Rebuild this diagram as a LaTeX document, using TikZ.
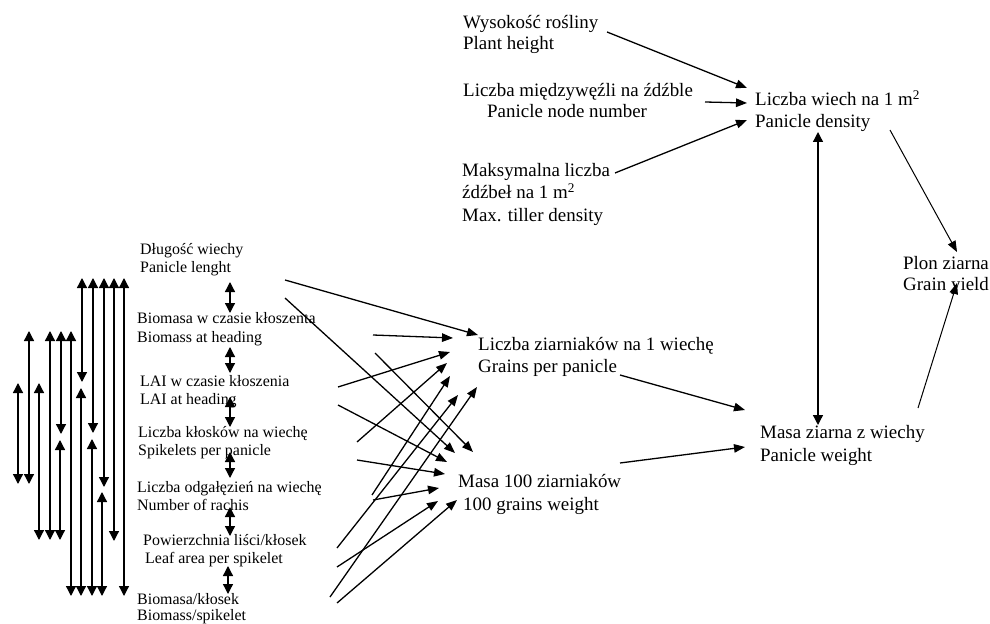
\documentclass[tikz,border=0pt]{standalone}
\usepackage{fontspec}
\setmainfont{Liberation Serif}
\usetikzlibrary{arrows.meta}
\begin{document}
\begin{tikzpicture}[x=1bp,y=-1bp,
  lbl/.style={anchor=base west, inner sep=0pt, font=\fontsize{16}{18}\selectfont},
  big/.style={anchor=base west, inner sep=0pt, font=\fontsize{19}{22}\selectfont},
  con/.style={line width=1.3bp, -{Triangle[length=11bp,width=8.5bp]}},
  dbl/.style={line width=1.3bp, {Triangle[length=10bp,width=10bp]}-{Triangle[length=10bp,width=10bp]}},
  sdbl/.style={line width=1.3bp, {Triangle[length=10bp,width=10bp]}-{Triangle[length=10bp,width=10bp]}},
]
\useasboundingbox (0,0) rectangle (990,624);

% ---------- left items ----------
\node[lbl] (i1a) at (140,255) {Długość wiechy};
\node[lbl] (i1b) at (140,273) {Panicle lenght};
\node[lbl] (i2a) at (137,323) {Biomasa w czasie kłoszenta};
\node[lbl] (i2b) at (137,342) {Biomass at heading};
\node[lbl] (i3a) at (140,386) {LAI w czasie kłoszenia};
\node[lbl] (i3b) at (140,404) {LAI at heading};
\node[lbl] (i4a) at (138,437) {Liczba kłosków na wiechę};
\node[lbl] (i4b) at (138,455) {Spikelets per panicle};
\node[lbl] (i5a) at (137,492) {Liczba odgałęzień na wiechę};
\node[lbl] (i5b) at (137,510) {Number of rachis};
\node[lbl] (i6a) at (143,545) {Powierzchnia liści/kłosek};
\node[lbl] (i6b) at (145,563) {Leaf area per spikelet};
\node[lbl] (i7a) at (137,604) {Biomasa/kłosek};
\node[lbl] (i7b) at (137,620) {Biomass/spikelet};

% ---------- short double arrows between neighbouring items ----------
\foreach \n/\x/\a/\b in {1/230/282/313, 2/230/347/373, 3/230/397/427,
                         4/230/452/478, 5/230/507/536, 6/228/566/594}{
  \coordinate (sa\n) at (\x,\a);
  \coordinate (sb\n) at (\x,\b);
  \draw[sdbl] (sa\n) -- (sb\n);
}

% ---------- long vertical double arrows ----------
\foreach \n/\x/\a/\b in {1/82/278/382, 2/93/278/433, 3/104/278/487, 4/114/278/541,
                         5/124/278/596, 6/29/331/484, 7/50/331/540, 8/61/331/434,
                         9/71/331/596, 10/18/383/484, 11/39/383/540, 12/60/440/540,
                         13/81/388/596, 14/92/439/596, 15/102/492/596}{
  \coordinate (vt\n) at (\x,\a);
  \coordinate (vb\n) at (\x,\b);
  \draw[dbl] (vt\n) -- (vb\n);
}

% ---------- middle targets ----------
\node[big] (gp1) at (478,350) {Liczba ziarniaków na 1 wiechę};
\node[big] (gp2) at (478,372) {Grains per panicle};
\node[big] (mw1) at (458,487) {Masa 100 ziarniaków};
\node[big] (mw2) at (463,510) {100 grains weight};

% sources (left items) and tips
\coordinate (s1g) at (285,280); \coordinate (g1) at (478,335);
\coordinate (s1m) at (285,298); \coordinate (m1) at (455,453);
\coordinate (s2g) at (373,335); \coordinate (g2) at (453,338);
\coordinate (s2m) at (375,353); \coordinate (m2) at (473,452);
\coordinate (s3g) at (338,387); \coordinate (g3) at (450,352);
\coordinate (s3m) at (338,405); \coordinate (m3) at (447,462);
\coordinate (s4g) at (357,442); \coordinate (g4) at (447,363);
\coordinate (s4m) at (357,460); \coordinate (m4) at (445,474);
\coordinate (s5g) at (372,495); \coordinate (g5) at (450,376);
\coordinate (s5m) at (373,500); \coordinate (m5) at (439,488);
\coordinate (s6g) at (337,548); \coordinate (g6) at (458,395);
\coordinate (s6m) at (337,567); \coordinate (m6) at (438,501);
\coordinate (s7g) at (330,597); \coordinate (g7) at (477,387);
\coordinate (s7m) at (337,603); \coordinate (m7) at (457,500);
\foreach \n in {1,...,7}{
  \draw[con] (s\n g) -- (g\n);
  \draw[con] (s\n m) -- (m\n);
}

% ---------- top ----------
\node[big] (t1a) at (463,29)  {Wysokość rośliny};
\node[big] (t1b) at (463,50)  {Plant height};
\node[big] (t2a) at (463,97)  {Liczba międzywęźli na źdźble};
\node[big] (t2b) at (487,118) {Panicle node number};
\node[big] (t3a) at (462,177) {Maksymalna liczba};
\node[big] (t3b) at (462,199) {źdźbeł na 1 m\textsuperscript{2}};
\node[big] (t3c) at (462,222) {Max. tiller density};

\node[big] (pd1) at (755,106) {Liczba wiech na 1 m\textsuperscript{2}};
\node[big] (pd2) at (755,128) {Panicle density};

\coordinate (ts1) at (607,32);  \coordinate (tt1) at (747,88);
\coordinate (ts2) at (705,102); \coordinate (tt2) at (747,103);
\coordinate (ts3) at (615,173); \coordinate (tt3) at (747,120);
\draw[con] (ts1) -- (tt1);
\draw[con] (ts2) -- (tt2);
\draw[con] (ts3) -- (tt3);

% ---------- right ----------
\node[big] (gy1) at (903,270) {Plon ziarna};
\node[big] (gy2) at (903,291) {Grain yield};
\node[big] (pw1) at (760,438) {Masa ziarna z wiechy};
\node[big] (pw2) at (760,461) {Panicle weight};

\coordinate (r1s) at (620,375); \coordinate (r1t) at (745,410);
\coordinate (r2s) at (620,463); \coordinate (r2t) at (745,447);
\draw[con] (r1s) -- (r1t);
\draw[con] (r2s) -- (r2t);

\coordinate (vpd) at (818,132); \coordinate (vpw) at (818,425);
\draw[dbl] (vpd) -- (vpw);

\coordinate (y1s) at (890,130); \coordinate (y1t) at (957,252);
\coordinate (y2s) at (918,408); \coordinate (y2t) at (957,283);
\draw[con, line width=1bp] (y1s) -- (y1t);
\draw[con, line width=1bp] (y2s) -- (y2t);
\end{tikzpicture}
\end{document}
